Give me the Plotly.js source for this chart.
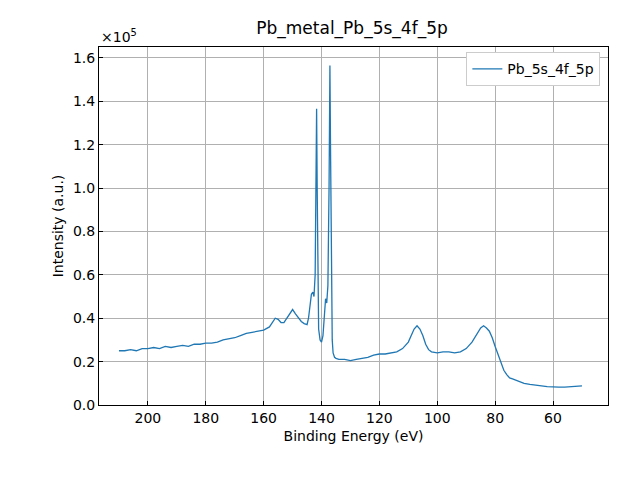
<!DOCTYPE html>
<html><head><meta charset="utf-8">
<script src="https://cdn.plot.ly/plotly-3.0.1.min.js"></script>
<style>body{margin:0}</style></head><body>
<div id="c" style="width:640px;height:480px"></div>
<script>
const energy = [210,208,206,204,202,200,198,196,194,192,190,188,186,184,182,180,178,176,174,172,170,168,166,164,162,160,158,157,156,155,154,153,152,151,150,149,148,147,146,145,144.5,144,143.5,143,142.6,142.2,141.9,141.7,141.5,141.2,141,140.5,140,139.5,139,138.6,138.2,137.8,137.4,137.1,136.9,136.6,136.3,136,135.5,135,134,132,130,128,126,124,122,120,118,116,114,112,110,109,108,107,106,105,104,103,102,100,98,96,94,92,90,88,86,85,84,83,82,81,80,79,78,77,76,75,74,72,70,68,66,64,62,60,58,56,54,52,50];
const intensity = [.25,.25,.255,.25,.26,.26,.265,.26,.27,.265,.27,.275,.27,.28,.28,.285,.285,.29,.30,.305,.31,.32,.33,.335,.34,.345,.36,.38,.40,.395,.38,.38,.40,.42,.44,.42,.40,.385,.375,.37,.40,.47,.51,.52,.50,.60,1.0,1.365,1.0,.5,.35,.30,.29,.32,.42,.49,.47,.55,1.0,1.565,1.2,.6,.30,.24,.22,.215,.21,.21,.205,.21,.215,.22,.23,.235,.235,.24,.245,.26,.29,.32,.35,.365,.35,.32,.28,.255,.245,.24,.245,.245,.24,.245,.26,.29,.33,.355,.365,.355,.34,.31,.27,.23,.19,.16,.14,.125,.12,.11,.10,.095,.09,.088,.085,.082,.082,.082,.083,.085,.088];
const f = {family:'DejaVu Sans', size:14, color:'#000'};
const ax = {showline:true, mirror:true, linecolor:'#000', linewidth:1, ticks:'inside', ticklen:4, tickcolor:'#000', showgrid:true, gridcolor:'#b0b0b0', gridwidth:1, zeroline:false, tickfont:f};
Plotly.newPlot('c', [{x:energy, y:intensity, type:'scatter', mode:'lines', name:'Pb_5s_4f_5p', line:{color:'#1f77b4', width:1.3}}], {
  width:640, height:480, paper_bgcolor:'#fff', plot_bgcolor:'#fff', font:f,
  margin:{l:99, r:32, t:47, b:75},
  title:{text:'Pb_metal_Pb_5s_4f_5p', font:{family:'DejaVu Sans', size:17}, x:0.55, xanchor:'center', y:0.955},
  xaxis:Object.assign({}, ax, {range:[216.9,41], dtick:20, title:{text:'Binding Energy (eV)', font:f, standoff:6}}),
  yaxis:Object.assign({}, ax, {range:[0,1.65], dtick:0.2, tickformat:'.1f', title:{text:'Intensity (a.u.)', font:f, standoff:6}}),
  showlegend:true,
  legend:{x:0.985, y:0.985, xanchor:'right', yanchor:'top', bordercolor:'#ccc', borderwidth:1, font:f, bgcolor:'#fff'},
  annotations:[{text:'×10<sup>5</sup>', xref:'paper', yref:'paper', x:0, y:1, xanchor:'left', yanchor:'bottom', showarrow:false, font:f}]
}, {displayModeBar:false});
</script></body></html>
